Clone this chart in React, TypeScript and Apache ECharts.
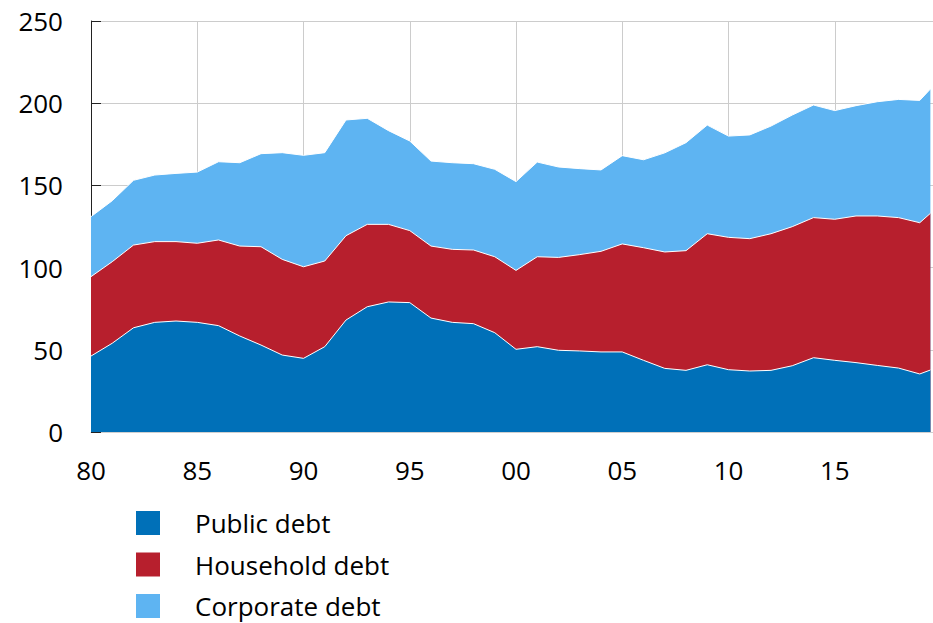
import React, { useEffect, useRef } from "react";
import * as echarts from "echarts";

const years = [
  1980, 1981, 1982, 1983, 1984, 1985, 1986, 1987, 1988, 1989,
  1990, 1991, 1992, 1993, 1994, 1995, 1996, 1997, 1998, 1999,
  2000, 2001, 2002, 2003, 2004, 2005, 2006, 2007, 2008, 2009,
  2010, 2011, 2012, 2013, 2014, 2015, 2016, 2017, 2018, 2019, 2019.5,
];

const publicDebt = [
  46.2, 54.0, 63.4, 66.7, 67.5, 66.7, 64.7, 58.4, 52.9, 46.8,
  44.8, 51.9, 68.1, 76.2, 79.1, 78.7, 69.3, 66.7, 65.9, 60.4,
  50.3, 51.9, 49.7, 49.3, 48.7, 48.7, 43.6, 38.7, 37.5, 40.9,
  37.9, 37.1, 37.5, 40.3, 45.2, 43.6, 42.2, 40.5, 38.9, 35.3, 37.7,
];

const householdDebt = [
  48.3, 49.6, 50.3, 49.1, 48.3, 48.1, 52.1, 54.7, 59.8, 58.2,
  55.7, 52.1, 51.3, 50.1, 47.2, 43.8, 43.8, 44.4, 44.8, 46.2,
  48.0, 54.7, 56.5, 58.6, 61.2, 65.7, 68.5, 70.8, 72.8, 79.7,
  80.5, 80.5, 83.1, 84.6, 85.2, 85.8, 89.2, 90.9, 91.5, 92.0, 95.3,
];

const corporateDebt = [
  36.5, 37.1, 39.4, 40.5, 41.5, 43.3, 47.6, 50.7, 56.6, 64.9,
  67.8, 65.9, 70.4, 64.5, 57.0, 54.5, 51.7, 52.7, 52.5, 53.2,
  54.0, 57.6, 55.0, 52.3, 49.5, 53.7, 53.5, 60.3, 65.7, 66.1,
  61.6, 63.1, 65.5, 67.9, 68.5, 66.1, 67.1, 69.5, 71.9, 74.4, 75.6,
];

const seriesNames = ["Public debt", "Household debt", "Corporate debt"];
const seriesColors = ["#0070B8", "#B71F2D", "#5EB4F2"];
const seriesValues = [publicDebt, householdDebt, corporateDebt];

const FONT = "'Open Sans', 'Noto Sans', sans-serif";

export default function App() {
  const ref = useRef<HTMLDivElement>(null);

  useEffect(() => {
    document.body.style.margin = "0";
    if (!ref.current) return;
    const chart = echarts.init(ref.current, undefined, { renderer: "svg" });

    // cumulative tops (stack computed from the data arrays)
    const cumulative: number[][] = [];
    seriesValues.forEach((vals, i) => {
      cumulative.push(
        vals.map((v, j) => (i === 0 ? v : cumulative[i - 1][j] + v))
      );
    });

    // draw from top layer down so lower layers sit on top
    const order = [2, 1, 0];
    const series = order.map((i, k) => ({
      name: seriesNames[i],
      type: "line",
      showSymbol: false,
      symbol: "none",
      color: seriesColors[i],
      itemStyle: { color: seriesColors[i] },
      lineStyle: { color: "#ffffff", width: 1 },
      areaStyle: { color: seriesColors[i], opacity: 1, origin: "start" },
      data: years.map((y, j) => [y, Math.round(cumulative[i][j] * 10) / 10]),
      z: 2 + k,
    }));

    chart.setOption({
      animation: false,
      backgroundColor: "#ffffff",
      grid: { left: 91, right: 0, top: 21, bottom: 191, containLabel: false },
      legend: {
        orient: "vertical",
        left: 136,
        top: 510,
        height: 140,
        width: 400,
        padding: 0,
        itemWidth: 24,
        itemHeight: 24,
        itemGap: 15.5,
        icon: "rect",
        data: seriesNames,
        textStyle: {
          fontFamily: FONT,
          fontSize: 26,
          lineHeight: 24,
          color: "#000000",
          padding: [0, 0, 0, 30],
        },
      },
      tooltip: { show: false },
      xAxis: {
        type: "value",
        min: 1980,
        max: 2020,
        interval: 5,
        axisLine: { show: true, lineStyle: { color: "#cfcfcf", width: 1 } },
        axisTick: { show: false },
        splitLine: { show: true, lineStyle: { color: "#cccccc", width: 1 } },
        axisLabel: {
          fontFamily: FONT,
          fontSize: 26,
          color: "#000000",
          margin: 25,
          formatter: (v: number) => {
            if (v % 5 !== 0 || v >= 2020) return "";
            return String(v % 100).padStart(2, "0");
          },
        },
      },
      yAxis: {
        type: "value",
        min: 0,
        max: 250,
        interval: 50,
        axisLine: { show: true, lineStyle: { color: "#222222", width: 1 } },
        axisTick: { show: true, inside: true, length: 10, lineStyle: { color: "#222222" } },
        splitLine: { show: true, lineStyle: { color: "#cccccc", width: 1 } },
        axisLabel: {
          fontFamily: FONT,
          fontSize: 26,
          color: "#000000",
          margin: 28,
        },
      },
      series,
    });
    return () => chart.dispose();
  }, []);

  return (
    <div
      style={{
        position: "absolute",
        left: 0,
        top: 0,
        width: 933,
        height: 623,
        overflow: "hidden",
        background: "#ffffff",
      }}
    >
      <div ref={ref} style={{ width: 944, height: 623 }} />
    </div>
  );
}
